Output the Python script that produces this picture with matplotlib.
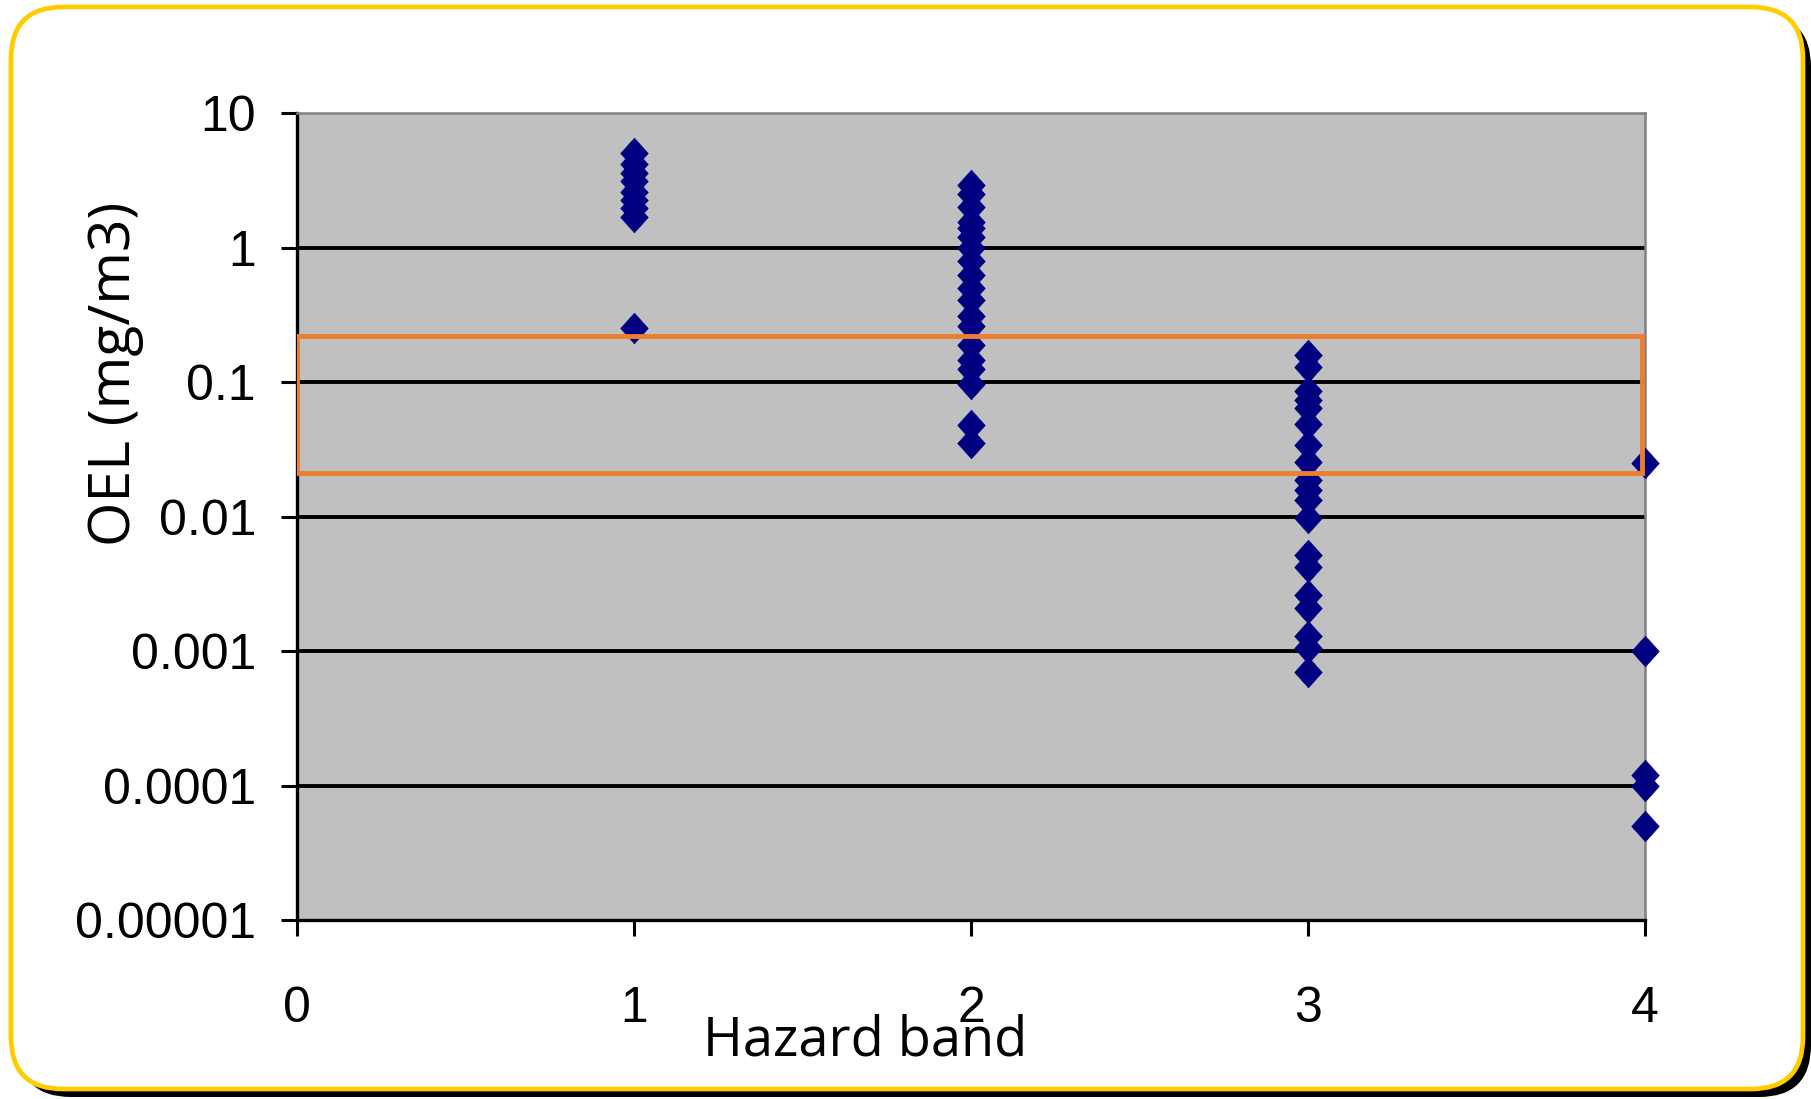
import matplotlib
matplotlib.use('Agg')
import matplotlib.pyplot as plt
from matplotlib.patches import FancyBboxPatch, Rectangle

NAVY   = "#000080"
ORANGE = "#ED7D31"
YELLOW = "#FFCC00"
PLOT_BG = "#C0C0C0"

# ── Data ──────────────────────────────────────────────────────────────────────
band1 = [5.0, 4.2, 3.6, 3.1, 2.6, 2.25, 1.96, 1.7, 0.25]
band2 = [2.9, 2.5, 2.0, 1.55, 1.4, 1.2, 1.0, 0.8, 0.62, 0.5, 0.41, 0.31,
         0.26, 0.19, 0.145, 0.125, 0.097, 0.048, 0.035]
band3 = [0.16, 0.13, 0.085, 0.073, 0.064, 0.049, 0.034, 0.0255, 0.0187,
         0.0157, 0.0133, 0.0097, 0.0052, 0.0042, 0.0026, 0.0021, 0.0013,
         0.00105, 0.0007]
band4 = [0.025, 0.001, 0.00012, 0.0001, 0.00005]
bands = [band1, band2, band3, band4]

x_ticks = [0, 1, 2, 3, 4]
y_ticks = [1e-5, 1e-4, 1e-3, 1e-2, 1e-1, 1, 10]
y_labels = ['0.00001', '0.0001', '0.001', '0.01', '0.1', '1', '10']
box_y = (0.021, 0.22)      # highlighted OEL range
box_x = (0, 3.99)

TICK_FONT = ['Liberation Sans', 'DejaVu Sans']
LABEL_FONT = ['Open Sans', 'DejaVu Sans']

W, H = 1811, 1099
fig = plt.figure(figsize=(W / 100, H / 100), dpi=100)
fig.patch.set_facecolor('white')

# ── Frame (pixel coords) ──────────────────────────────────────────────────────
bg = fig.add_axes([0, 0, 1, 1], zorder=0)
bg.set_xlim(0, W)
bg.set_ylim(H, 0)
bg.axis('off')
bg.add_patch(FancyBboxPatch((19, 15), 1792, 1082,
                            boxstyle='round,pad=0,rounding_size=52',
                            facecolor='black', edgecolor='none'))
bg.add_patch(FancyBboxPatch((11, 7), 1792, 1082,
                            boxstyle='round,pad=0,rounding_size=52',
                            facecolor='white', edgecolor=YELLOW, linewidth=3.4))

bg.text(865, 1055, 'Hazard band', ha='center', va='baseline',
        fontsize=39, family=LABEL_FONT)
bg.text(116, 374, 'OEL (mg/m3)', ha='center', va='center', rotation=90,
        fontsize=41, family=LABEL_FONT)

# ── Plot area ─────────────────────────────────────────────────────────────────
ax = fig.add_axes([297 / W, 1 - 920 / H, 1348 / W, 807 / H], zorder=1)
ax.set_facecolor(PLOT_BG)
ax.set_yscale('log')
ax.set_xlim(0, 4)
ax.set_ylim(1e-5, 10)

for v in y_ticks[1:-1]:
    ax.axhline(v, color='black', lw=2.8, zorder=1)

diamond = [(0, 1), (0.9, 0), (0, -1), (-0.9, 0), (0, 1)]
for band, vals in enumerate(bands, start=1):
    ax.plot([band] * len(vals), vals, linestyle='none', marker=diamond,
            ms=22, color=NAVY, mec=NAVY, mew=0.5, clip_on=False, zorder=3)

ax.add_patch(Rectangle((box_x[0], box_y[0]), box_x[1] - box_x[0],
                       box_y[1] - box_y[0], fill=False,
                       edgecolor=ORANGE, lw=3.5, zorder=4))

ax.set_xticks(x_ticks)
ax.set_xticklabels([str(t) for t in x_ticks])
ax.set_yticks(y_ticks)
ax.set_yticklabels(y_labels)
ax.minorticks_off()
ax.tick_params(direction='out', length=11.5, width=2.2, color='black',
               labelsize=36)
ax.tick_params(axis='y', pad=18)
ax.tick_params(axis='x', pad=36)
for lab in ax.get_xticklabels() + ax.get_yticklabels():
    lab.set_family(TICK_FONT)

for s in ('left', 'bottom'):
    ax.spines[s].set_color('black')
    ax.spines[s].set_linewidth(2.4)
for s in ('top', 'right'):
    ax.spines[s].set_color('#808080')
    ax.spines[s].set_linewidth(1.8)

plt.savefig('out.png', dpi=100, facecolor='white')
